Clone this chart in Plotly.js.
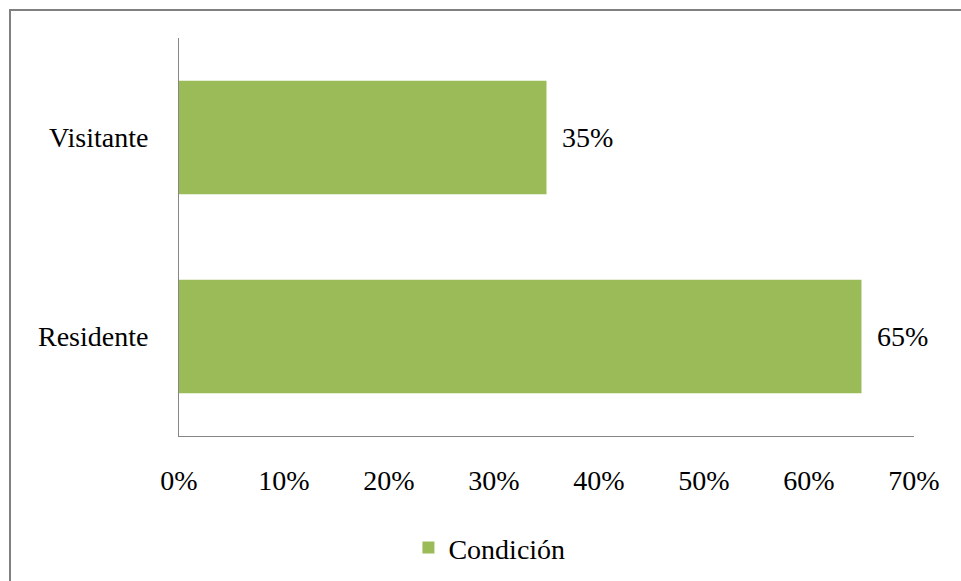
<!DOCTYPE html>
<html>
<head>
<meta charset="utf-8">
<script src="https://cdn.plot.ly/plotly-3.0.1.min.js"></script>
<style>
  html, body { margin: 0; padding: 0; background: #ffffff; }
  #frame { position: absolute; left: 9px; top: 9px; width: 1000px; height: 700px;
           border-left: 2px solid #808080; border-top: 2px solid #808080; box-sizing: border-box; }
  #chart { position: absolute; left: 0; top: 0; width: 961px; height: 581px; }
  body { width: 961px; height: 581px; overflow: hidden; position: relative; }
</style>
</head>
<body>
<div id="frame"></div>
<div id="chart"></div>
<script>
const categories = ["Residente", "Visitante"];
const values = [65, 35];
const seriesName = "Condición";
const tickValues = [0, 10, 20, 30, 40, 50, 60, 70];
const tickLabels = ["0%", "10%", "20%", "30%", "40%", "50%", "60%", "70%"];
const valueLabels = values.map(v => v + "%");

const FONT = "'Liberation Serif', 'Times New Roman', serif";

const trace = {
  type: "bar",
  orientation: "h",
  y: categories,
  x: values,
  name: seriesName,
  width: 0.57,
  marker: { color: "#9BBB59" },
  hoverinfo: "none",
  showlegend: true
};

const annotations = categories.map((c, i) => ({
  x: values[i], y: c, xref: "x", yref: "y",
  text: valueLabels[i], showarrow: false,
  xanchor: "left", yanchor: "middle", xshift: 13,
  font: { family: FONT, size: 28, color: "#000000" }
}));

const layout = {
  width: 961, height: 581,
  margin: { l: 179, r: 47, t: 38, b: 145, pad: 0 },
  paper_bgcolor: "rgba(0,0,0,0)",
  plot_bgcolor: "rgba(0,0,0,0)",
  font: { family: FONT, size: 28, color: "#000000" },
  xaxis: {
    range: [0, 70],
    tickvals: tickValues,
    ticktext: tickLabels,
    showgrid: false,
    zeroline: false,
    showline: true,
    linecolor: "#868686",
    linewidth: 1,
    ticks: "",
    ticklabelstandoff: 19,
    tickfont: { family: FONT, size: 28, color: "#000000" },
    fixedrange: true
  },
  yaxis: {
    type: "category",
    range: [-0.5, 1.5],
    showgrid: false,
    zeroline: false,
    showline: true,
    linecolor: "#868686",
    linewidth: 1,
    ticks: "",
    ticklabelstandoff: 24,
    tickfont: { family: FONT, size: 28, color: "#000000" },
    fixedrange: true
  },
  showlegend: true,
  legend: {
    orientation: "h",
    xref: "container", yref: "container",
    x: 0.425, xanchor: "left",
    y: 0.057, yanchor: "middle",
    font: { family: FONT, size: 28, color: "#000000" },
    bgcolor: "rgba(0,0,0,0)",
    itemwidth: 30
  },
  annotations: annotations
};

Plotly.newPlot("chart", [trace], layout, { displayModeBar: false, staticPlot: true });
</script>
</body>
</html>
